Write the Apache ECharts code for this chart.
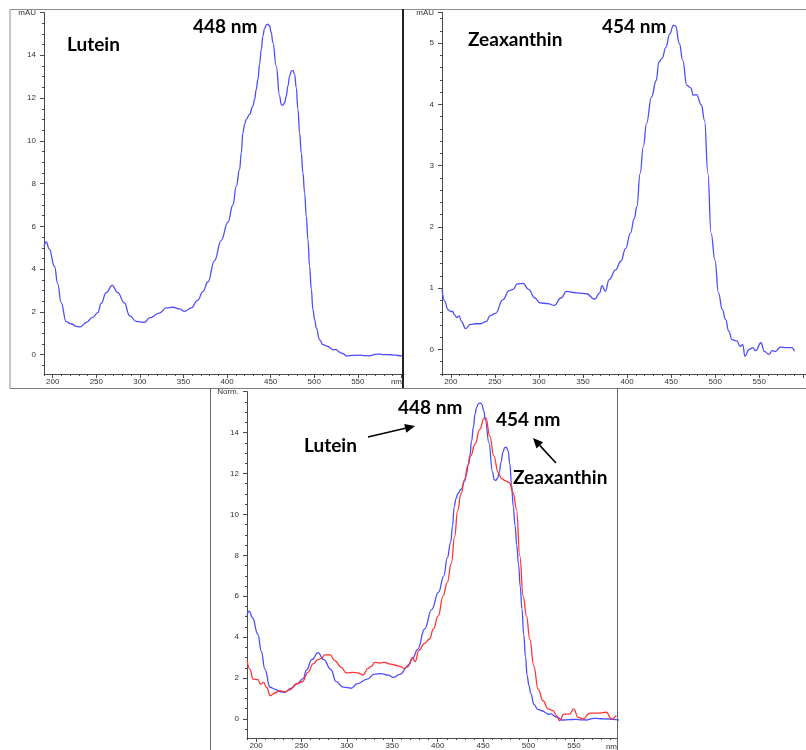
<!DOCTYPE html>
<html>
<head>
<meta charset="utf-8">
<script src="https://cdn.jsdelivr.net/npm/echarts@6/dist/echarts.min.js"></script>
<style>
  html, body { margin: 0; padding: 0; background: #ffffff; }
  #chart { width: 806px; height: 750px; }
</style>
</head>
<body>
<div id="chart"></div>
<script>
// UV-Vis absorption spectra: [wavelength (nm), absorbance]
const luteinSpectrum = [
  [190, 5.05], [192.5, 5.27], [196, 4.95], [202, 4.14], [205.8, 3.3], [209.6, 2.45],
  [215.4, 1.55], [221, 1.45], [226.9, 1.33], [231.4, 1.3], [238.3, 1.5], [245.9, 1.75],
  [251.7, 1.97], [255.6, 2.4], [261.3, 2.9], [268.2, 3.24], [274.6, 2.9], [282.3, 2.42],
  [288.1, 1.83], [295.8, 1.56], [305.3, 1.51], [311, 1.72], [322.5, 1.95], [330.2, 2.19],
  [337.8, 2.22], [345.5, 2.14], [351.2, 2.03], [358.9, 2.19], [366.5, 2.55], [372.2, 2.95],
  [378, 3.4], [385.6, 4.4], [393.3, 5.35], [401, 6.2], [406.7, 7.0], [410.6, 7.88],
  [414.4, 8.66], [416.3, 9.44], [418.2, 10.38], [420.1, 10.77], [422, 11.0], [425.8, 11.24],
  [429.6, 11.62], [431.6, 11.94], [433.5, 12.41], [435.4, 12.87], [437.3, 13.58], [439.3, 14.28],
  [441.1, 14.9], [443, 15.25], [445, 15.42], [446.8, 15.45], [448.8, 15.37], [450.7, 15.06],
  [452.6, 14.59], [456.4, 13.5], [460.3, 12.09], [462.2, 11.7], [464, 11.66], [466, 11.78],
  [467.9, 12.09], [469.8, 12.56], [471.8, 13.03], [473.7, 13.26], [475.5, 13.29], [477.5, 13.11],
  [479.4, 12.49], [481.3, 11.47], [483.2, 10.38], [485.2, 9.44], [487, 8.51], [489, 7.57],
  [490.9, 6.47], [492.8, 5.38], [494.7, 4.13], [496.7, 3.04], [498.5, 2.11], [500.5, 1.64],
  [502.4, 1.25], [506.2, 0.7], [510, 0.47], [515.8, 0.39], [519, 0.3], [521.5, 0.23],
  [525, 0.25], [529.2, 0.12], [533, 0.05], [536.9, -0.05], [545, -0.03], [552.2, -0.02],
  [558, -0.04], [563.6, -0.05], [570, 0.02], [575, 0.03], [580, 0.01], [586.6, 0],
  [593, -0.02], [600, -0.05], [603, -0.05]
];

const zeaxanthinSpectrum = [
  [190, 0.98], [193.1, 0.79], [196.7, 0.65], [200, 0.62], [202.2, 0.62], [204, 0.57],
  [206.9, 0.52], [209.5, 0.55], [212, 0.46], [216.8, 0.34], [222.3, 0.41], [227.8, 0.42],
  [233.3, 0.42], [240.6, 0.46], [244.3, 0.55], [250.8, 0.59], [258.9, 0.81], [266.2, 0.96],
  [270.6, 0.98], [275.4, 1.07], [282, 1.08], [288.2, 0.98], [295.5, 0.84], [301, 0.76],
  [310.1, 0.75], [317.5, 0.72], [324.8, 0.84], [331.4, 0.95], [339.4, 0.93], [346.8, 0.92],
  [354, 0.91], [363.2, 0.82], [368.7, 0.92], [371.6, 1.04], [375.3, 0.95], [379.7, 1.14],
  [387, 1.3], [392.9, 1.44], [398.4, 1.65], [403.8, 1.9], [408.2, 2.14], [411.1, 2.33],
  [414.8, 2.87], [418.4, 3.31], [422.1, 3.69], [427.6, 4.12], [433.1, 4.39], [436, 4.69],
  [439.7, 4.75], [444, 4.93], [448.4, 5.15], [452.5, 5.29], [455, 5.28], [459.4, 4.99],
  [463.1, 4.72], [467.8, 4.31], [472.2, 4.27], [475.2, 4.15], [478.8, 4.16], [484.3, 3.99],
  [487.9, 3.74], [491.7, 2.87], [495.3, 1.9], [499.7, 1.46], [503.7, 0.92], [508.1, 0.65],
  [511.7, 0.49], [515.4, 0.3], [519.1, 0.16], [524.6, 0.14], [528.2, 0.05], [531.2, 0.08],
  [533.7, -0.11], [538.4, 0], [542.8, 0.03], [545.8, -0.02], [552, 0.11], [555.7, -0.03],
  [561.1, -0.08], [564.8, -0.02], [568.5, -0.03], [574, 0.04], [581.3, 0.03], [586.8, 0.03],
  [590, -0.03]
];

// Zeaxanthin spectrum normalised to the lutein maximum
const zeaxanthinNormalized = [
  [190.1, 2.85], [193.1, 2.44], [196.7, 1.95], [202.2, 1.92], [204.8, 1.71], [208.4, 1.79],
  [211.4, 1.55], [215.8, 1.14], [220.5, 1.27], [226, 1.38], [231.5, 1.33], [237, 1.43],
  [244.4, 1.71], [250.9, 1.82], [257.2, 2.28], [262.7, 2.69], [268.2, 2.9], [271.8, 2.96],
  [275.6, 3.13], [281.7, 3.13], [286.6, 2.85], [293.9, 2.52], [299.4, 2.25], [306.7, 2.28],
  [312.2, 2.25], [317.7, 2.15], [323.2, 2.47], [326.9, 2.57], [330.6, 2.77], [336.1, 2.73],
  [341.6, 2.77], [347.1, 2.69], [352.6, 2.64], [358.1, 2.57], [363.6, 2.47], [369.1, 2.69],
  [372, 3.01], [375.3, 2.8], [379, 3.34], [385.6, 3.7], [391.1, 3.91], [395.1, 4.39],
  [400.6, 5.04], [406, 6.02], [410.5, 6.67], [415, 7.6], [418.6, 8.9], [422, 10.2],
  [425.6, 11.0], [429.5, 11.7], [433.2, 12.4], [436.4, 12.86], [441, 13.43], [446.4, 14.16],
  [450.8, 14.68], [453, 14.73], [457.4, 13.83], [461.8, 12.86], [466.6, 12.05], [470.3, 11.75],
  [475, 11.64], [478.7, 11.56], [483.1, 11.07], [486.8, 10.25], [490.4, 7.97], [494.1, 6.02],
  [497.8, 5.04], [501.4, 3.91], [505.8, 2.6], [510.6, 1.46], [516, 0.89], [521.6, 0.49],
  [527.1, 0.41], [530.8, 0.16], [534.4, -0.08], [538.8, 0.24], [545.4, 0.24], [549.8, 0.49],
  [554.6, 0.08], [560.1, 0], [567.4, 0.29], [578.4, 0.29], [585.8, 0.33], [591.3, 0],
  [596.8, 0.16]
];

// Axis tick values
const wavelengthTicks = [200, 250, 300, 350, 400, 450, 500, 550, 600];
const wavelengthLabels = [200, 250, 300, 350, 400, 450, 500, 550];
const luteinTicks = [0, 2, 4, 6, 8, 10, 12, 14, 16];
const zeaxanthinTicks = [0, 1, 2, 3, 4, 5, 5.5];
const normTicks = [0, 2, 4, 6, 8, 10, 12, 14, 16];

const BLUE = '#4d4dff';
const RED = '#ff3434';
const AXIS_COLOR = '#4a4a4a';
const LABEL_FONT = 'Liberation Sans, Arial, sans-serif';

function stepValues(from, to, step, skip) {
  const out = [];
  for (let v = from; v <= to + 1e-9; v += step) {
    const r = Math.round(v * 100) / 100;
    if (!skip.some(s => Math.abs(s - r) < 1e-6)) out.push(r);
  }
  return out;
}

function xAxes(gridIndex, max) {
  const minor = stepValues(190, 600, 10, wavelengthTicks);
  return [
    {
      type: 'value', gridIndex, min: 190, max, position: 'bottom',
      axisLine: { show: true, onZero: false, lineStyle: { color: AXIS_COLOR, width: 1 } },
      axisTick: { show: true, length: 4, customValues: wavelengthTicks, lineStyle: { color: AXIS_COLOR } },
      axisLabel: { show: true, customValues: wavelengthLabels, fontSize: 8, color: '#333',
                   fontFamily: LABEL_FONT, margin: 4 },
      splitLine: { show: false }
    },
    {
      type: 'value', gridIndex, min: 190, max, position: 'bottom',
      axisLine: { show: false, onZero: false },
      axisTick: { show: true, length: 2, customValues: minor, lineStyle: { color: AXIS_COLOR } },
      axisLabel: { show: false },
      splitLine: { show: false }
    }
  ];
}

function yAxes(gridIndex, min, max, majors, minorStep, unit) {
  const minor = stepValues(Math.ceil(min / minorStep) * minorStep, max, minorStep, majors);
  return [
    {
      type: 'value', gridIndex, min, max, position: 'left',
      axisLine: { show: true, onZero: false, lineStyle: { color: AXIS_COLOR, width: 1 } },
      axisTick: { show: true, length: 4, customValues: majors, lineStyle: { color: AXIS_COLOR } },
      axisLabel: {
        show: true, customValues: majors, fontSize: 8, color: '#333', fontFamily: LABEL_FONT, margin: 8,
        formatter: v => (Math.abs(v - max) < 1e-9 ? unit : String(v))
      },
      splitLine: { show: false }
    },
    {
      type: 'value', gridIndex, min, max, position: 'left',
      axisLine: { show: false, onZero: false },
      axisTick: { show: true, length: 2, customValues: minor, lineStyle: { color: AXIS_COLOR } },
      axisLabel: { show: false },
      splitLine: { show: false }
    }
  ];
}

function spectrumSeries(data, xAxisIndex, yAxisIndex, color) {
  return {
    type: 'line', data, xAxisIndex, yAxisIndex,
    showSymbol: false, symbol: 'none', smooth: 0.45, smoothMonotone: 'x',
    clip: true, silent: true,
    lineStyle: { color, width: 1.3 }
  };
}

function arrow(x1, y1, x2, y2) {
  const dx = x2 - x1, dy = y2 - y1;
  const len = Math.sqrt(dx * dx + dy * dy);
  const ux = dx / len, uy = dy / len;
  const head = 10, half = 4.5;
  const bx = x2 - ux * head, by = y2 - uy * head;
  return [
    { type: 'line', shape: { x1, y1, x2: bx, y2: by }, style: { stroke: '#000', lineWidth: 1.6 }, z: 100 },
    { type: 'polygon', shape: { points: [[x2, y2], [bx - uy * half, by + ux * half], [bx + uy * half, by - ux * half]] },
      style: { fill: '#000' }, z: 100 }
  ];
}

function label(text, x, y, size) {
  return {
    type: 'text', x, y, z: 100,
    style: { text, fill: '#000', font: 'bold ' + size + 'px Lato, "Open Sans", sans-serif',
             align: 'left', verticalAlign: 'middle' }
  };
}

function unitText(text, x, y) {
  return {
    type: 'text', x, y, z: 100,
    style: { text, fill: '#333', font: '8px ' + LABEL_FONT, align: 'right', verticalAlign: 'middle' }
  };
}

const frameStroke = { stroke: '#8c8c8c', lineWidth: 1, fill: null };

const option = {
  backgroundColor: '#ffffff',
  animation: false,
  grid: [
    { left: 44, top: 12.5, width: 360, height: 361.5 },
    { left: 442, top: 12.5, width: 376, height: 361.5 },
    { left: 247, top: 391.7, width: 370.5, height: 347.3 }
  ],
  xAxis: [
    ...xAxes(0, 603),
    ...xAxes(1, 603),
    ...xAxes(2, 598)
  ],
  yAxis: [
    ...yAxes(0, -0.9, 16, luteinTicks, 0.5, 'mAU'),
    ...yAxes(1, -0.4, 5.5, zeaxanthinTicks, 0.2, 'mAU'),
    ...yAxes(2, -0.93, 16, normTicks, 0.5, 'Norm.')
  ],
  series: [
    spectrumSeries(luteinSpectrum, 0, 0, BLUE),
    spectrumSeries(zeaxanthinSpectrum, 2, 2, BLUE),
    spectrumSeries(luteinSpectrum, 4, 4, BLUE),
    spectrumSeries(zeaxanthinNormalized, 4, 4, RED)
  ],
  graphic: [
    // panel frames
    { type: 'polyline', shape: { points: [[10, 388], [10, 9.5], [806, 9.5]] }, style: frameStroke, z: 50 },
    { type: 'line', shape: { x1: 10, y1: 388.5, x2: 806, y2: 388.5 }, style: { stroke: '#7a7a7a', lineWidth: 1 }, z: 50 },
    { type: 'line', shape: { x1: 403, y1: 9, x2: 403, y2: 388 }, style: { stroke: '#222', lineWidth: 2 }, z: 50 },
    { type: 'line', shape: { x1: 210.5, y1: 388, x2: 210.5, y2: 750 }, style: { stroke: '#666', lineWidth: 1 }, z: 50 },
    { type: 'line', shape: { x1: 617.5, y1: 388, x2: 617.5, y2: 750 }, style: { stroke: '#666', lineWidth: 1 }, z: 50 },
    // wavelength unit at the end of each x axis
    unitText('nm', 402, 382),
    unitText('nm', 617, 747),
    // annotations
    label('Lutein', 67, 45, 19),
    label('448 nm', 193, 27, 19),
    label('Zeaxanthin', 468, 40, 19),
    label('454 nm', 602, 27, 19),
    label('Lutein', 304, 446, 19),
    label('448 nm', 398, 408, 19),
    label('454 nm', 496, 420, 19),
    label('Zeaxanthin', 513, 478, 19),
    ...arrow(368, 437, 415, 426),
    ...arrow(556, 463, 533, 438)
  ]
};

const chart = echarts.init(document.getElementById('chart'), null, { renderer: 'canvas' });
chart.setOption(option);
</script>
</body>
</html>
